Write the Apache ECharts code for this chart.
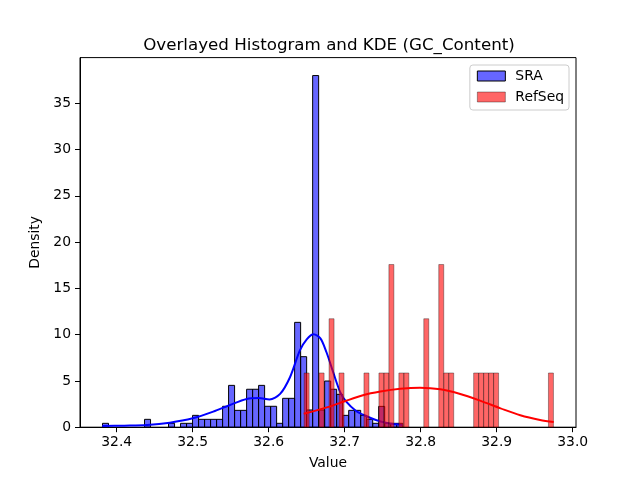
<!DOCTYPE html>
<html>
<head>
<meta charset="utf-8">
<script src="https://cdn.jsdelivr.net/npm/echarts@6/dist/echarts.min.js"></script>
<style>
  html, body { margin: 0; padding: 0; background: #fff; }
  #chart { width: 640px; height: 480px; }
</style>
</head>
<body>
<div id="chart"></div>
<script>
// histogram bins (density)
const sraStart = 32.3813;
const sraBinWidth = 0.0079;
const sraDensity = [
  0.42, 0, 0, 0, 0, 0, 0, 0.85, 0, 0,
  0, 0.42, 0, 0.42, 0.42, 1.28, 0.85, 0.85, 0.85, 0.85,
  2.26, 4.52, 1.82, 1.82, 4.1, 4.1, 4.52, 2.26, 2.26, 0.42,
  3.12, 3.12, 11.33, 7.62, 1.86, 38.0, 1.86, 4.99, 4.1, 3.55,
  1.28, 1.82, 1.82, 1.28, 0.85, 0.42, 2.25, 0.42, 0.42, 0.42
];

const refStart = 32.6466;
const refBinWidth = 0.00656;
const refDensity = [
  5.86, 0, 0, 5.86, 0, 11.72, 0, 5.86, 0, 0,
  0, 0, 5.86, 0, 0, 5.86, 5.86, 17.58, 0, 5.86,
  5.86, 0, 0, 0, 11.72, 0, 0, 17.58, 5.86, 5.86,
  0, 0, 0, 0, 5.86, 5.86, 5.86, 5.86, 5.86, 0,
  0, 0, 0, 0, 0, 0, 0, 0, 0, 5.86
];

// KDE curves
const sraKdeX = [32.381, 32.41, 32.44, 32.47, 32.50, 32.527, 32.549, 32.571, 32.587, 32.601,
  32.615, 32.628, 32.641, 32.650, 32.659, 32.668, 32.676, 32.685, 32.694, 32.702,
  32.715, 32.728, 32.741, 32.754, 32.768, 32.776];
const sraKdeY = [0.13, 0.17, 0.24, 0.49, 0.96, 1.68, 2.4, 3.05, 3.15, 3.0,
  3.6, 5.4, 8.3, 9.5, 10.05, 9.6, 8.1, 5.9, 3.8, 2.76,
  1.75, 1.21, 0.78, 0.49, 0.31, 0.24];

const refKdeX = [32.646, 32.68, 32.70, 32.724, 32.747, 32.773, 32.799, 32.826, 32.852, 32.878,
  32.905, 32.931, 32.957, 32.975];
const refKdeY = [1.45, 2.22, 2.8, 3.45, 3.85, 4.15, 4.27, 4.1, 3.59, 2.87,
  2.04, 1.29, 0.78, 0.56];

const xTicks = [32.4, 32.5, 32.6, 32.7, 32.8, 32.9, 33.0];
const yTicks = [0, 5, 10, 15, 20, 25, 30, 35];

// [left, right, height] per non-empty bin
function toBins(start, width, heights) {
  const out = [];
  heights.forEach((h, i) => {
    if (h > 0) out.push([start + i * width, start + (i + 1) * width, h]);
  });
  return out;
}

function zip(xs, ys) {
  return xs.map((x, i) => [x, ys[i]]);
}

function barRenderer(fill, stroke) {
  return function (params, api) {
    const p0 = api.coord([api.value(0), api.value(2)]);
    const p1 = api.coord([api.value(1), 0]);
    return {
      type: "rect",
      shape: { x: p0[0], y: p0[1], width: p1[0] - p0[0], height: p1[1] - p0[1] },
      style: { fill: fill, stroke: stroke, lineWidth: 1 }
    };
  };
}

const chart = echarts.init(document.getElementById("chart"), null, { renderer: "canvas" });

const option = {
  animation: false,
  textStyle: { fontFamily: "DejaVu Sans" },
  title: {
    text: "Overlayed Histogram and KDE (GC_Content)",
    left: 324,
    top: 32,
    textAlign: "center",
    textStyle: { fontSize: 16.7, fontWeight: "normal", color: "#000", fontFamily: "DejaVu Sans" }
  },
  legend: {
    orient: "vertical",
    right: 71,
    top: 65,
    padding: [4, 5, 6, 7],
    itemGap: 7,
    itemWidth: 28,
    itemHeight: 10,
    backgroundColor: "#fff",
    borderColor: "#ccc",
    borderWidth: 1,
    borderRadius: 3,
    textStyle: { fontSize: 13.9, color: "#000", fontFamily: "DejaVu Sans", padding: [0, 0, 0, 5] },
    data: [
      { name: "SRA", icon: "rect", itemStyle: { color: "rgba(0,0,255,0.6)", borderColor: "#000", borderWidth: 1 } },
      { name: "RefSeq", icon: "rect", itemStyle: { color: "rgba(255,0,0,0.6)", borderColor: "rgba(0,0,0,0.35)", borderWidth: 1 } }
    ]
  },
  grid: {
    left: 80,
    right: 64,
    top: 57.6,
    bottom: 52.8,
    show: true,
    borderColor: "#000",
    borderWidth: 1,
    backgroundColor: "transparent"
  },
  xAxis: {
    type: "value",
    min: 32.3517,
    max: 33.0043,
    name: "Value",
    nameLocation: "middle",
    nameGap: 29,
    nameTextStyle: { fontSize: 13.9, color: "#000" },
    axisLine: { show: true, lineStyle: { color: "#000" } },
    axisTick: { show: true, length: 5, lineStyle: { color: "#000" }, customValues: xTicks },
    axisLabel: {
      fontSize: 13.9,
      color: "#000",
      margin: 8,
      customValues: xTicks,
      formatter: (v) => v.toFixed(1)
    },
    splitLine: { show: false }
  },
  yAxis: {
    type: "value",
    min: 0,
    max: 39.94,
    name: "Density",
    nameLocation: "middle",
    nameGap: 30,
    nameTextStyle: { fontSize: 13.9, color: "#000" },
    axisLine: { show: true, lineStyle: { color: "#000" } },
    axisTick: { show: true, length: 5, lineStyle: { color: "#000" }, customValues: yTicks },
    axisLabel: { fontSize: 13.9, color: "#000", margin: 9, customValues: yTicks },
    splitLine: { show: false }
  },
  series: [
    {
      name: "SRA",
      type: "custom",
      renderItem: barRenderer("rgba(0,0,255,0.6)", "#000"),
      itemStyle: { color: "rgba(0,0,255,0.6)", borderColor: "#000", borderWidth: 1 },
      encode: { x: [0, 1], y: 2 },
      data: toBins(sraStart, sraBinWidth, sraDensity),
      z: 2
    },
    {
      name: "SRA KDE",
      type: "line",
      smooth: 0.3,
      showSymbol: false,
      lineStyle: { color: "#0000ff", width: 2 },
      itemStyle: { color: "#0000ff" },
      data: zip(sraKdeX, sraKdeY),
      z: 3
    },
    {
      name: "RefSeq",
      type: "custom",
      renderItem: barRenderer("rgba(255,0,0,0.6)", "rgba(0,0,0,0.35)"),
      itemStyle: { color: "rgba(255,0,0,0.6)", borderColor: "rgba(0,0,0,0.35)", borderWidth: 1 },
      encode: { x: [0, 1], y: 2 },
      data: toBins(refStart, refBinWidth, refDensity),
      z: 4
    },
    {
      name: "RefSeq KDE",
      type: "line",
      smooth: 0.3,
      showSymbol: false,
      lineStyle: { color: "#ff0000", width: 2 },
      itemStyle: { color: "#ff0000" },
      data: zip(refKdeX, refKdeY),
      z: 5
    }
  ]
};

chart.setOption(option);
</script>
</body>
</html>
